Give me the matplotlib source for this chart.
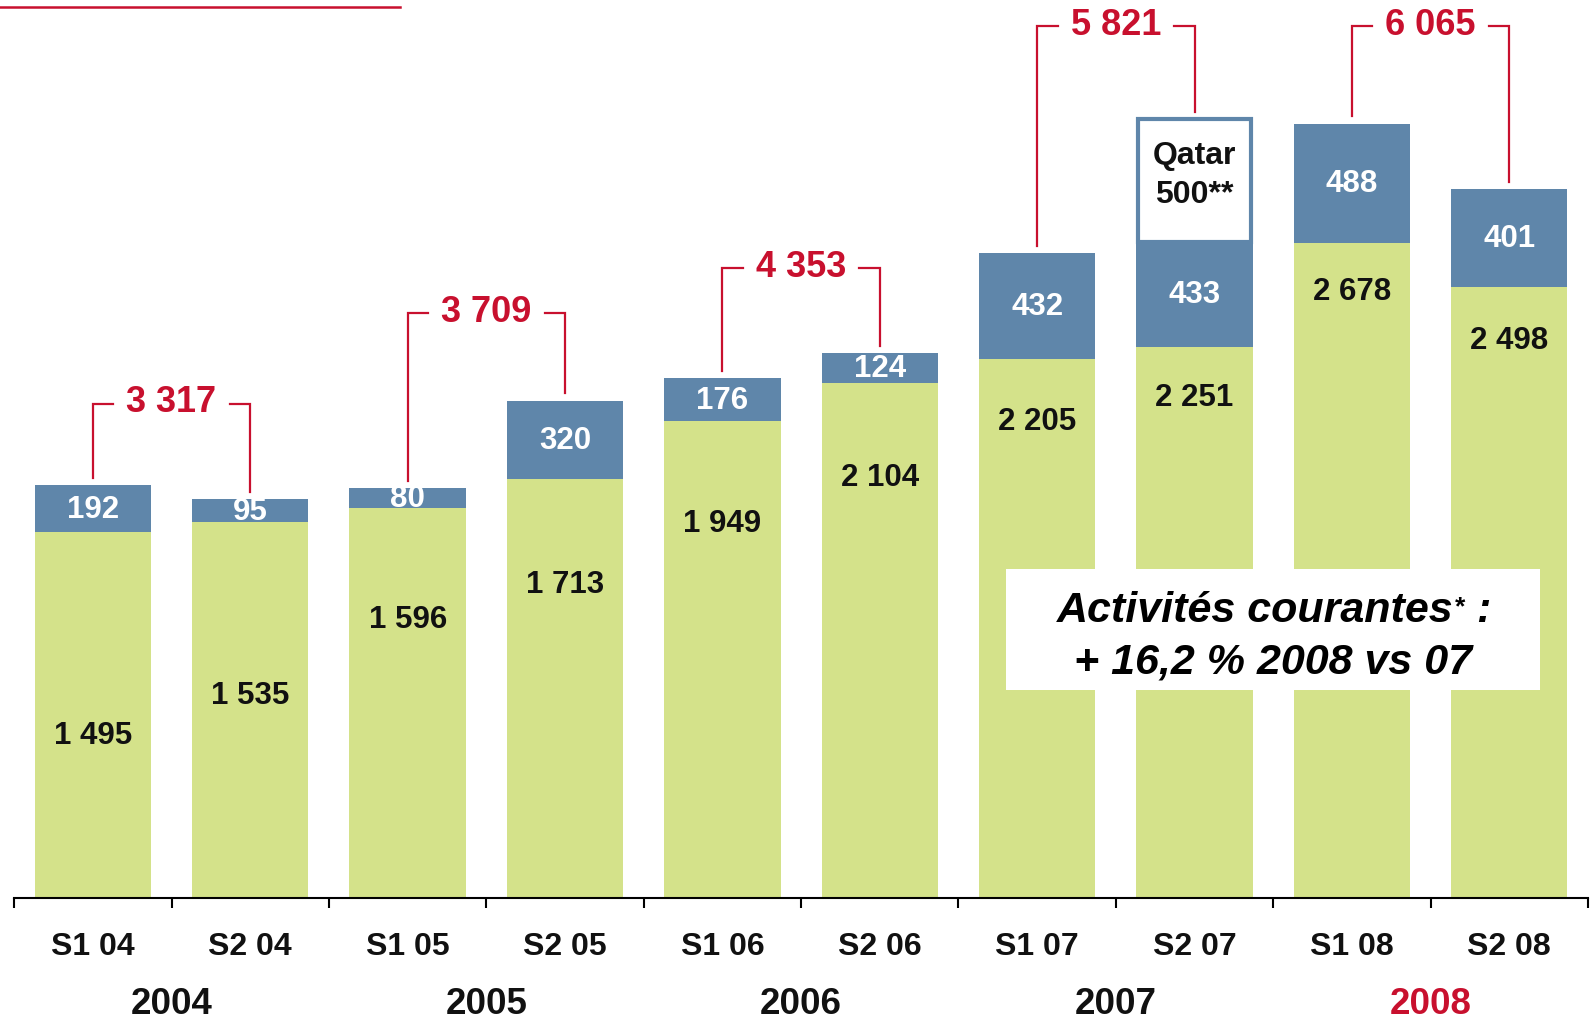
# Résultat net par semestre, 2004-2008
import matplotlib.pyplot as plt
import matplotlib.transforms as mtransforms
import numpy as np
from matplotlib.lines import Line2D
from matplotlib.patches import Rectangle

plt.rcParams["font.family"] = ["Liberation Sans", "DejaVu Sans"]
plt.rcParams["font.weight"] = "bold"

# données
periods = ["S1 04", "S2 04", "S1 05", "S2 05", "S1 06",
           "S2 06", "S1 07", "S2 07", "S1 08", "S2 08"]
years = ["2004", "2005", "2006", "2007", "2008"]
base = [1495, 1535, 1596, 1713, 1949, 2104, 2205, 2251, 2678, 2498]
extra = [192, 95, 80, 320, 176, 124, 432, 433, 488, 401]
qatar = [0, 0, 0, 0, 0, 0, 0, 500, 0, 0]

# mise en page
green_label_frac = [0.445, 0.54, 0.715, 0.75, 0.787, 0.818, 0.885, 0.91, 0.927, 0.914]
bracket_levels = [2020, 2390, 2575, 3565, 3565]

GREEN = "#d4e28a"
BLUE = "#5f86aa"
RED = "#c8102e"


def fmt(v):
    return f"{v:,}".replace(",", " ")


x = np.arange(len(periods))
base = np.array(base)
extra = np.array(extra)
qatar = np.array(qatar)
tops = base + extra + qatar

fig = plt.figure(figsize=(15.94, 10.2), dpi=100)
ax = fig.add_axes([0.0089, 0.1189, 0.9873, 0.8811])
ax.set_xlim(-0.5, 9.5)
ax.set_ylim(0, 3676)

w = 0.74
ax.bar(x, base, width=w, color=GREEN, zorder=2)
ax.bar(x, extra, width=w, bottom=base, color=BLUE, zorder=2)
has_q = qatar > 0
ax.bar(x[has_q], qatar[has_q], width=w - 0.02, bottom=(base + extra)[has_q],
       color="white", edgecolor=BLUE, linewidth=3, zorder=2)

# étiquettes des segments
for i in range(len(x)):
    ax.text(x[i], base[i] * green_label_frac[i], fmt(base[i]), ha="center",
            va="center", fontsize=22.5, color="#111111", zorder=5)
    ax.text(x[i], base[i] + extra[i] / 2, fmt(extra[i]), ha="center",
            va="center", fontsize=22.5, color="white", zorder=5)
    if qatar[i]:
        ax.text(x[i], base[i] + extra[i] + qatar[i] * 0.55,
                f"Qatar\n{qatar[i]}**", ha="center", va="center",
                fontsize=23, color="#111111", linespacing=1.4, zorder=5)

# accolades des totaux annuels
gap = 30
for k in range(len(years)):
    i, j = 2 * k, 2 * k + 1
    total = tops[i] + tops[j]
    lvl = bracket_levels[k]
    mid = (x[i] + x[j]) / 2
    ax.plot([x[i], x[i], mid - 0.37], [tops[i] + gap, lvl, lvl],
            color=RED, lw=1.6, solid_joinstyle="miter", zorder=3)
    ax.plot([mid + 0.37, x[j], x[j]], [lvl, lvl, tops[j] + gap],
            color=RED, lw=1.6, solid_joinstyle="miter", zorder=3)
    ax.text(mid, lvl + 8, fmt(total), ha="center", va="center",
            fontsize=26, color=RED, zorder=5)

# encadré
ax.add_patch(Rectangle((5.805, 848), 9.196 - 5.805, 1343 - 848,
                       facecolor="white", edgecolor="none", zorder=4))
t1 = ax.text(6.128, 1131, "Activités courantes", ha="left", va="baseline",
             fontsize=31, style="italic", color="black", zorder=5)
ax.annotate("*", xy=(1, 0.6), xycoords=t1, xytext=(0, 0),
            textcoords="offset pixels", ha="left", va="center",
            fontsize=19, style="italic", zorder=5)
ax.annotate(":", xy=(1, 0), xycoords=t1, xytext=(22, 0),
            textcoords="offset pixels", ha="left", va="bottom",
            fontsize=31, style="italic", zorder=5)
ax.text(7.5, 923, "+ 16,2 % 2008 vs 07", ha="center", va="baseline",
        fontsize=31, style="italic", color="black", zorder=5)

# axe horizontal
for s in ["left", "right", "top"]:
    ax.spines[s].set_visible(False)
ax.spines["bottom"].set_linewidth(1.5)
ax.set_yticks([])
ax.set_xticks(np.arange(-0.5, 10, 1))
ax.set_xticklabels([])
ax.tick_params(axis="x", direction="out", length=7.5, width=1.5, color="black")

trans = mtransforms.blended_transform_factory(ax.transData, ax.transAxes)
for i, p in enumerate(periods):
    ax.text(x[i], -0.0532, p, transform=trans, ha="center", va="center",
            fontsize=23, color="#111111", clip_on=False)
for k, yr in enumerate(years):
    ax.text(2 * k + 0.5, -0.1176, yr, transform=trans, ha="center",
            va="center", fontsize=26.5,
            color=RED if yr == "2008" else "#111111", clip_on=False)

# filet rouge en haut à gauche
fig.add_artist(Line2D([0, 0.251], [0.992, 0.992], color=RED, lw=1.8))

fig.savefig("out.png", dpi=100)
plt.close(fig)
